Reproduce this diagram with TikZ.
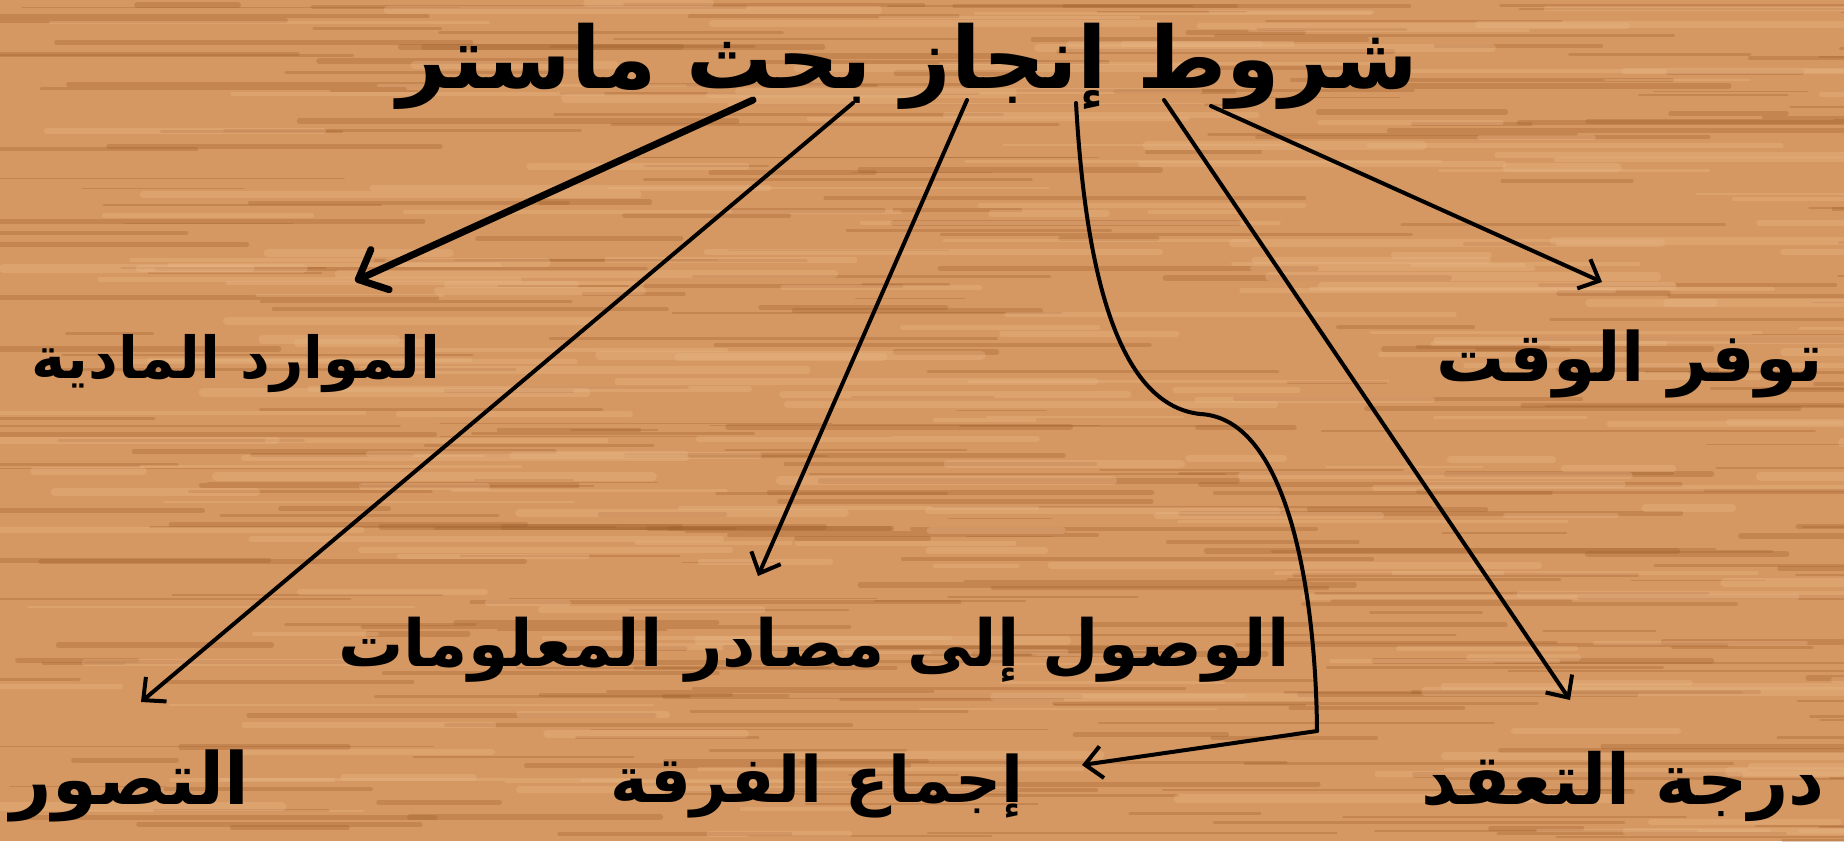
\documentclass[tikz,border=0pt]{standalone}
\usepackage{fontspec}
\newfontfamily\arabicfont[Script=Arabic]{DejaVu Sans}
\TeXXeTstate=1
\usetikzlibrary{arrows.meta}
\definecolor{woodBase}{RGB}{214,152,98}
\definecolor{woodDark}{RGB}{160,96,46}
\definecolor{woodLight}{RGB}{234,184,134}
\begin{document}
\begin{tikzpicture}[x=1pt,y=-1pt,
  lbl/.style={font=\arabicfont\bfseries\fontsize{#1}{#1}\selectfont, inner sep=0pt, text=black},
  lbl/.default=70,
  ttl/.style={font=\arabicfont\bfseries\fontsize{86}{100}\selectfont, inner sep=0pt, text=black},
  conn/.style={line width=4pt, line cap=round, -{Straight Barb[length=17pt,width=32pt,line width=4pt]}},
  bigconn/.style={line width=7pt, line cap=round, -{Straight Barb[length=24pt,width=44pt,line width=7pt,round]}},
  plain/.style={line width=4pt, line cap=round, line join=round}]
% background
\fill[woodBase] (0,0) rectangle (1844,841);
\useasboundingbox (0,0) rectangle (1844,841);
\pgfmathsetseed{42}
\foreach \i in {1,...,360}{
  \pgfmathsetmacro{\yy}{rnd*841}
  \pgfmathsetmacro{\xx}{rnd*1944-100}
  \pgfmathsetmacro{\ll}{80+rnd*420}
  \pgfmathsetmacro{\ww}{1+rnd*5}
  \draw[woodDark, opacity=0.32, line width=\ww pt, line cap=round] (\xx,\yy) -- ++(\ll,0);
}
\foreach \i in {1,...,220}{
  \pgfmathsetmacro{\yy}{rnd*841}
  \pgfmathsetmacro{\xx}{rnd*1944-100}
  \pgfmathsetmacro{\ll}{80+rnd*420}
  \pgfmathsetmacro{\ww}{2+rnd*7}
  \draw[woodLight, opacity=0.35, line width=\ww pt, line cap=round] (\xx,\yy) -- ++(\ll,0);
}
% title
\node[ttl] (title) at (908,66) {\beginR شروط إنجاز بحث ماستر\endR};
% labels
\node[lbl=68] (time) at (1630,364) {\beginR توفر الوقت\endR};
\node[lbl=58] (res) at (236,364) {\beginR الموارد المادية\endR};
\node[lbl=65] (info) at (814,650) {\beginR الوصول إلى مصادر المعلومات\endR};
\node[lbl=72] (concept) at (130,786) {\beginR التصور\endR};
\node[lbl=64] (team) at (817,786) {\beginR إجماع الفرقة\endR};
\node[lbl=70] (complex) at (1623,786) {\beginR درجة التعقد\endR};
% connector end points
\coordinate (s1) at (753,100);  \coordinate (e1) at (355,281);
\coordinate (s2) at (853,103);  \coordinate (e2) at (141,702);
\coordinate (s3) at (967,100);  \coordinate (e3) at (758,576);
\coordinate (s4) at (1076,103); \coordinate (k4) at (1200,414); \coordinate (c4) at (1317,731); \coordinate (e4) at (1082,765);
\coordinate (s5) at (1164,100); \coordinate (e5) at (1570,700);
\coordinate (s6) at (1211,106); \coordinate (e6) at (1602,282);
% connectors
\draw[bigconn] (s1) -- (e1);
\draw[conn] (s2) -- (e2);
\draw[conn] (s3) -- (e3);
\draw[plain] (s4) .. controls (1086,280) and (1120,405) .. (k4)
   .. controls (1290,418) and (1316,600) .. (c4);
\draw[conn] (c4) -- (e4);
\draw[conn] (s5) -- (e5);
\draw[conn] (s6) -- (e6);
\end{tikzpicture}
\end{document}
